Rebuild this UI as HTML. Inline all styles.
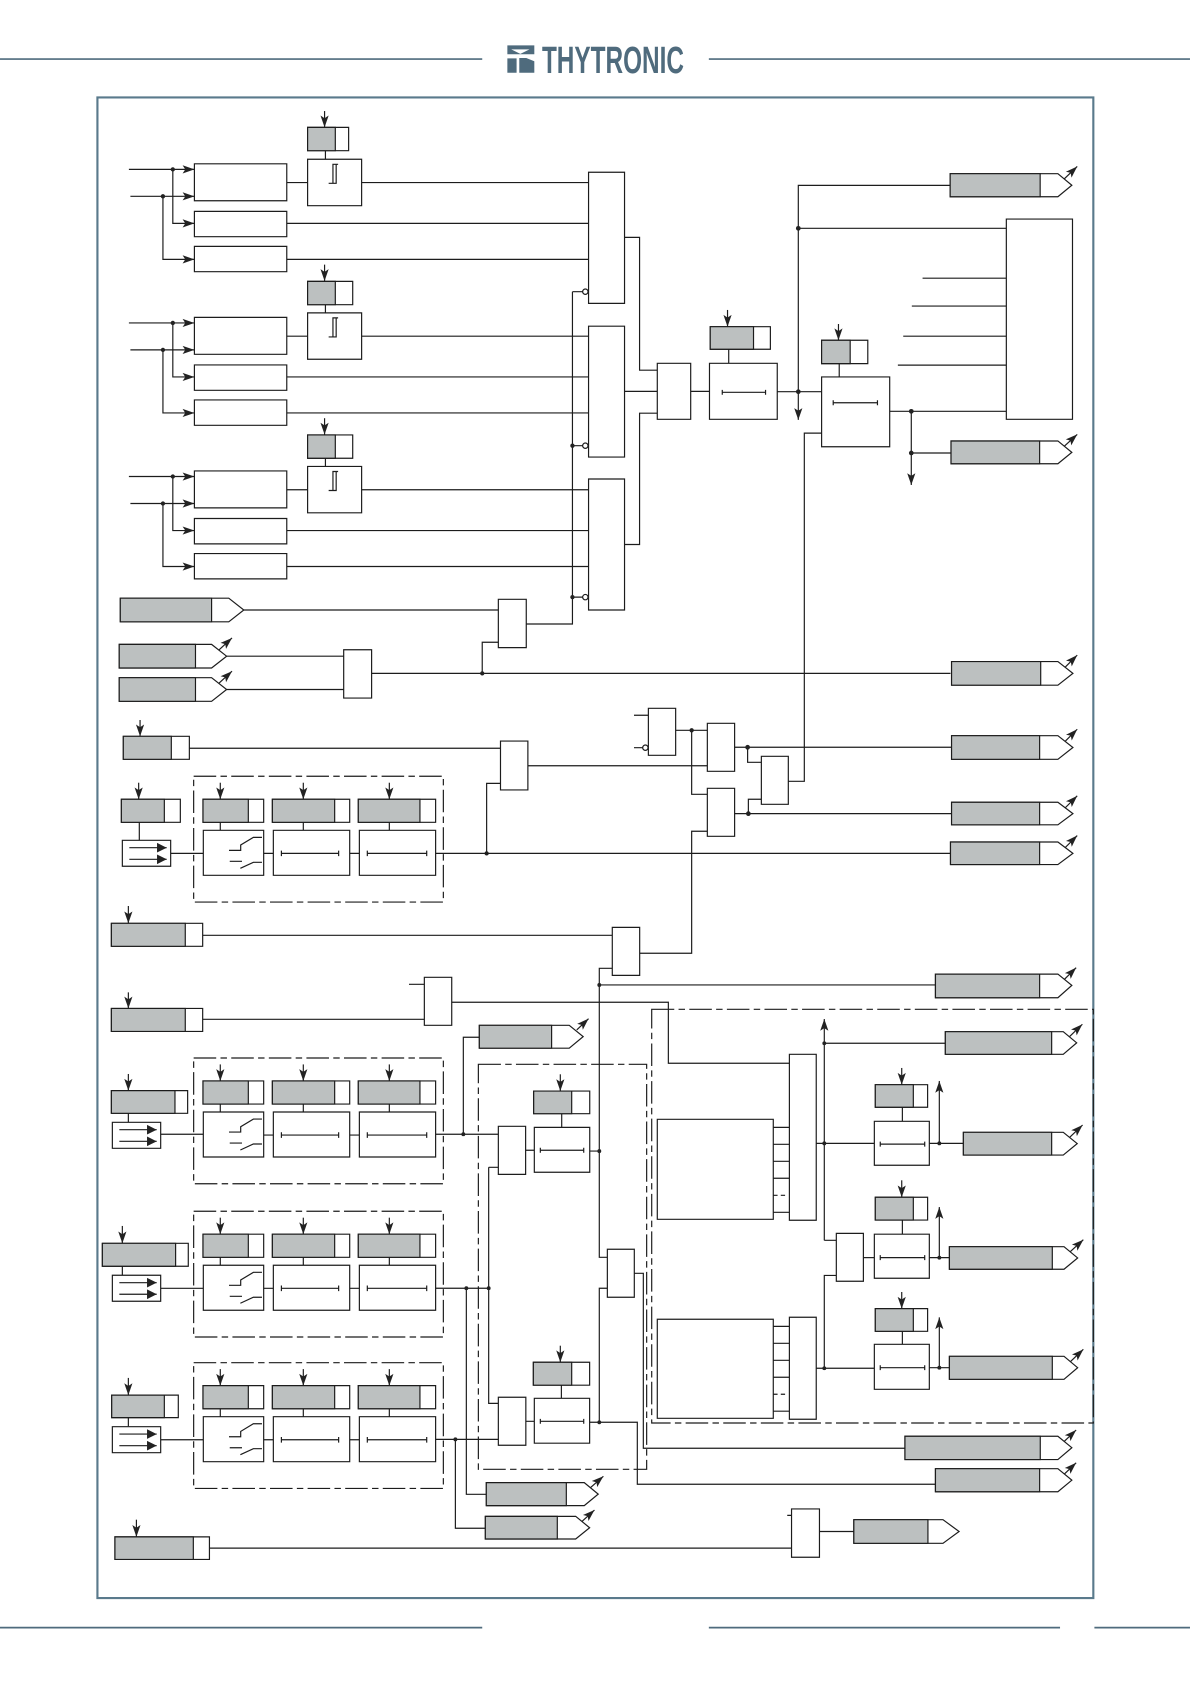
<!DOCTYPE html>
<html lang="en"><head><meta charset="utf-8"><title>Logic diagram</title>
<style>
html,body{margin:0;padding:0;background:#fff}
svg{display:block}
.g{fill:#bcc0c0}
.w{fill:#fff}
.d{fill:#222;stroke:none}
.a{marker-end:url(#ah)}
.x{stroke-dasharray:21 4 6 4}
.b{stroke:#4f6b7d;stroke-width:1.6;fill:none}
</style></head><body>
<svg xmlns="http://www.w3.org/2000/svg" width="1190" height="1684" viewBox="0 0 1108 1568">
<defs>
<marker id="ah" markerUnits="userSpaceOnUse" markerWidth="14" markerHeight="10" refX="12" refY="5" orient="auto"><path d="M12 5L1 1.2L3.5 5L1 8.8Z" fill="#222"/></marker>
<marker id="tr" markerUnits="userSpaceOnUse" markerWidth="10" markerHeight="10" refX="9" refY="5" orient="auto"><path d="M9 5L0 .5V9.5Z" fill="#222"/></marker>
<g id="grp">
<path class="x" d="M180.3 722.8H412.8V839.9H180.3Z"/>
<path class="w" d="M189 744.2H245.5V765.7H189Z"/><path class="g" d="M189 744.2H231.2V765.7H189Z"/>
<path class="w" d="M253.6 744.2H325.6V765.7H253.6Z"/><path class="g" d="M253.6 744.2H311.6V765.7H253.6Z"/>
<path class="w" d="M333.6 744.2H405.6V765.7H333.6Z"/><path class="g" d="M333.6 744.2H391V765.7H333.6Z"/>
<path class="a" d="M205.1 728.8V744.2"/><path class="a" d="M282.4 728.8V744.2"/><path class="a" d="M362.5 728.8V744.2"/>
<path d="M205.1 765.7V773.1M282.4 765.7V773.1M362.5 765.7V773.1"/>
<path class="w" d="M189.3 773.1H245.5V815H189.3Z"/>
<path class="w" d="M254.5 773.1H325.6V815H254.5Z"/>
<path class="w" d="M334.6 773.1H405.6V815H334.6Z"/>
<path d="M245.5 794.6H254.5M325.6 794.6H334.6"/>
<path d="M213.2 791.8H224.1V786.8L235.9 779.7H243.9M213.9 802H225.3M223.8 808.5L235.9 802.9H243.9"/>
<path d="M262 794.6H315.3M262 792V797.2M315.3 792V797.2M342 794.6H397.3M342 792V797.2M397.3 792V797.2"/>
</g>
<g id="sh">
<path class="w" d="M113.9 782.4H158.9V806.6H113.9Z"/>
<path style="marker-end:url(#tr)" d="M120.4 789.3H155.2"/>
<path style="marker-end:url(#tr)" d="M120.4 800.1H155.2"/>
</g>
<g id="top">
<path d="M120 157.7H181" class="a"/><path d="M121.4 182.8H181" class="a"/>
<path class="a" d="M160.9 157.7V208H181"/><path class="a" d="M151.7 182.8V241.5H181"/>
<circle class="d" cx="160.9" cy="157.7" r="2"/><circle class="d" cx="151.7" cy="182.8" r="2"/>
<path d="M181 152.5H267V186.9H181ZM181 196.8H267V220.4H181ZM181 229.4H267V253H181Z"/>
<path d="M267 170H286.4M336.7 170H548M267 208H548M267 241.5H548"/>
<path d="M286.4 148.3H336.7V191.5H286.4Z"/>
<path d="M306 170.7H310V153H314.8M313 153V170.7H310"/>
<path d="M303 140.3V148.3"/>
<path class="a" d="M302.2 103.4V118.6"/>
</g>
</defs>

<path class="b" d="M0 55H449M660 55H1108M0 1515.5H449M660 1515.5H987M1019 1515.5H1108"/>
<path fill="#4f6b7d" fill-rule="evenodd" d="M472.4 42.2H497.5V50.5H472.4ZM476 46H493L484.5 50.2Z"/>
<path fill="#4f6b7d" d="M472.4 54.3H481V67.7H472.4ZM483.5 54H490L497.5 57V67.7H483.5Z"/>
<text x="504.6" y="68" font-family="'Liberation Sans',sans-serif" font-weight="bold" font-size="35" fill="#4f6b7d" textLength="132.2" lengthAdjust="spacingAndGlyphs">THYTRONIC</text>
<path d="M90.7 90.7H1018V1488H90.7Z" fill="none" stroke="#5a7a8c" stroke-width="2"/>

<g fill="none" stroke="#1c1c1c" stroke-width="1.1">
<!-- top three channels -->
<use href="#top"/><use href="#top" y="143"/><use href="#top" y="286"/>
<path class="w" d="M286.4 118.6H324.6V140.3H286.4Z"/><path class="g" d="M286.4 118.6H312.2V140.3H286.4Z"/>
<path class="w" d="M286.4 262H328.4V283.7H286.4Z"/><path class="g" d="M286.4 262H312.2V283.7H286.4Z"/>
<path class="w" d="M286.4 405H328.4V426.7H286.4Z"/><path class="g" d="M286.4 405H312.2V426.7H286.4Z"/>
<path d="M548 160.4H581.5V282.5H548ZM548 303.7H581.5V425.6H548ZM548 446H581.5V568H548Z"/>
<path d="M581.5 221H595.5V344.7H612M581.5 364.4H612M581.5 507H595.5V384.7H612"/>
<path d="M533 271.6H542.5M533 415H542.5M533 556H542.5M533 271.6V581H490"/>
<circle class="w" cx="545" cy="271.6" r="2.5"/><circle class="w" cx="545" cy="415" r="2.5"/><circle class="w" cx="545" cy="556" r="2.5"/>
<circle class="d" cx="533" cy="415" r="2"/><circle class="d" cx="533" cy="556" r="2"/>
<path d="M612 338.3H643.1V390.4H612Z"/>
<path d="M643.1 364.4H660.6"/>
<path class="w" d="M661.3 304.2H717.3V325.2H661.3Z"/><path class="g" d="M661.3 304.2H701.6V325.2H661.3Z"/>
<path class="a" d="M677.4 288.6V304.2"/><path d="M678.5 325.2V338.3"/>
<path d="M660.6 338.3H723.7V390.4H660.6Z"/>
<path d="M672.5 365.3H712.8M672.5 363V367.6M712.8 363V367.6"/>
<path d="M723.7 364.7H765"/>
<path class="a" d="M884.7 172.6H743.3V391"/>
<path d="M743.3 212.6H937"/>
<circle class="d" cx="743.3" cy="212.6" r="2.2"/><circle class="d" cx="743.3" cy="364.7" r="2.2"/>
<path class="w" d="M765 316.8H808V338.6H765Z"/><path class="g" d="M765 316.8H791.6V338.6H765Z"/>
<path class="a" d="M780.7 301.7V316.8"/><path d="M781.4 338.6V351"/>
<path d="M765 351H828.4V416H765Z"/>
<path d="M775.8 375H817M775.8 372.7V377.3M817 372.7V377.3"/>
<path d="M937 204H998.6V390.4H937Z"/>
<path d="M859 259H937M849 285H937M841 313H937M836 340H937M828.4 383H937"/>
<path class="a" d="M848.5 383V451.6"/><path d="M848.5 421.8H885.5"/>
<circle class="d" cx="848.5" cy="383" r="2.2"/><circle class="d" cx="848.5" cy="421.8" r="2.2"/>

<!-- middle logic -->
<path d="M227 568H464M211 611H320M211 642H320"/>
<path d="M464 558H490V603H464ZM320 605H346V650H320Z"/>
<path d="M346 627H885M449 627V598H464"/><circle class="d" cx="449" cy="627" r="2"/>
<path class="w" d="M114.8 685.6H176.3V707H114.8Z"/><path class="g" d="M114.8 685.6H159.5V707H114.8Z"/>
<path class="a" d="M130.4 670.4V685.6"/>
<path d="M176.3 696.7H466M466 690H491.5V735.5H466ZM491.5 713H658.6"/>
<path d="M453.1 794.6V729.4H466"/><circle class="d" cx="453.1" cy="794.6" r="2"/>
<path d="M590.3 666H603.7M590.3 696.2H598.4"/>
<path d="M603.7 659.5H629.1V703.3H603.7Z"/>
<circle class="w" cx="600.9" cy="696.2" r="2.5"/>
<path d="M629.1 680H658.6M644 680V739.6H658.6M658.6 774H644V887.6H595.6"/>
<circle class="d" cx="644" cy="680" r="2"/>
<path d="M658.6 673.5H684V718.2H658.6ZM658.6 734H684V778.7H658.6Z"/>
<path d="M684 695.8H886M684 757.6H886"/>
<path d="M696.1 695.8V709.8H708.9M708.9 744.2H696.8V757.6"/>
<circle class="d" cx="696.1" cy="695.8" r="2.2"/><circle class="d" cx="696.8" cy="757.6" r="2.2"/>
<path d="M708.9 704.2H734V748.9H708.9Z"/>
<path d="M734 727.5H748.9V403.3H765"/>

<!-- switch groups -->
<path class="w" d="M113 744.2H167.9V765.7H113Z"/><path class="g" d="M113 744.2H153V765.7H113Z"/>
<path class="a" d="M129.1 728.8V744.2"/><path d="M129.7 765.7V782.4M158.9 794.6H189.3"/>
<use href="#sh"/><use href="#grp"/>
<path d="M405.6 794.6H885"/>

<path class="w" d="M103.7 859.7H188.7V881.1H103.7Z"/><path class="g" d="M103.7 859.7H172.5V881.1H103.7Z"/>
<path class="a" d="M119.5 843.6V859.7"/><path d="M188.7 870.9H570"/>
<path d="M570.1 863.5H595.6V908.2H570.1Z"/>
<path class="w" d="M103.7 939H188.7V960.4H103.7Z"/><path class="g" d="M103.7 939H172.5V960.4H103.7Z"/>
<path class="a" d="M119.5 924V939"/><path d="M188.7 949.1H395.1M380.8 916.5H395.1"/>
<path d="M395.1 910H420.6V954.7H395.1Z"/>
<path d="M420.6 933.2H622.3V990H735"/>
<path d="M570.1 901.6H558V1170.7H565.5M558 917.1H871"/>
<circle class="d" cx="558" cy="917.1" r="1.8"/>

<!-- E -->
<path class="w" d="M103.7 1015.5H174.7V1036.6H103.7Z"/><path class="g" d="M103.7 1015.5H162.9V1036.6H103.7Z"/>
<path class="a" d="M119.5 1000V1015.5"/><path d="M119.5 1036.6V1045M149.6 1056.1H189.3"/>
<use href="#sh" x="-9.3" y="262.6"/><use href="#grp" y="262.3"/>
<path d="M405.6 1056.1H464M431.4 1056.1V965.8H446.3"/><circle class="d" cx="431.4" cy="1056.1" r="1.8"/>
<!-- F -->
<path class="w" d="M95.3 1157.7H175.3V1179H95.3Z"/><path class="g" d="M95.3 1157.7H163.5V1179H95.3Z"/>
<path class="a" d="M113.9 1141.5V1157.7"/><path d="M113.9 1179V1187.4M149.6 1199.6H189.3"/>
<use href="#sh" x="-9.3" y="405"/><use href="#grp" y="405"/>
<path d="M405.6 1199.5H455M455 1086.9V1306.7H464M455 1086.9H464M434.2 1199.5V1391.4H452.8"/>
<circle class="d" cx="434.2" cy="1199.5" r="1.8"/><circle class="d" cx="455" cy="1199.5" r="1.8"/>
<!-- G -->
<path class="w" d="M104 1299H166V1320H104Z"/><path class="g" d="M104 1299H153V1320H104Z"/>
<path class="a" d="M119.5 1283V1299"/><path d="M119.5 1320V1328M149.6 1340.6H189.3"/>
<use href="#sh" x="-9.3" y="546"/><use href="#grp" y="546"/>
<path d="M405.6 1340.2H464M424 1340.2V1423H451.9"/><circle class="d" cx="424" cy="1340.2" r="1.8"/>

<!-- inner dashed -->
<path class="x" d="M445.4 991H602.1V1368.1H445.4Z"/>
<path d="M464 1048.7H489.4V1093.5H464ZM464 1301H489.6V1345.7H464Z"/>
<path d="M489.4 1071H497.5M489.6 1323.4H497.5"/>
<path class="w" d="M496.9 1015.9H549.1V1037H496.9Z"/><path class="g" d="M496.9 1015.9H532.3V1037H496.9Z"/>
<path class="a" d="M521.7 1000.3V1015.9"/><path d="M523 1037V1049.7"/>
<path d="M497.5 1049.7H549.1V1091.5H497.5Z"/>
<path d="M503.1 1071H543.5M503.1 1068.7V1073.3M543.5 1068.7V1073.3M549.1 1071.8H558"/>
<circle class="d" cx="558" cy="1071.8" r="1.8"/>
<path class="w" d="M496.6 1268.4H549V1289.8H496.6Z"/><path class="g" d="M496.6 1268.4H532.3V1289.8H496.6Z"/>
<path class="a" d="M521.7 1253V1268.4"/><path d="M522.7 1289.8V1302"/>
<path d="M497.5 1302H549V1343.8H497.5Z"/>
<path d="M503.1 1323.4H543.5M503.1 1321.1V1325.7M543.5 1321.1V1325.7"/>
<path d="M549 1324.3H593.4V1382H871M558 1324.3V1199.5H565.5"/>
<circle class="d" cx="558" cy="1324.3" r="1.8"/>
<path d="M565.5 1163.2H590.6V1207.9H565.5Z"/>
<path d="M590.6 1185.6H599V1348.5H842.6"/>

<!-- outer dashed -->
<path class="x" d="M606.8 939.8H1018V1325H606.8Z"/>
<path d="M612 1042.2H720V1135.3H612ZM612 1228.4H720V1320.6H612Z"/>
<path d="M720 1049.7H735M720 1065.5H735M720 1081.3H735M720 1097.1H735M720 1128.8H735M720 1113H724M727 1113H731"/>
<path d="M720 1235H735M720 1250.8H735M720 1266.6H735M720 1282.4H735M720 1314H735M720 1298.2H724M727 1298.2H731"/>
<path d="M735 981.7H760V1136.2H735ZM735 1226.5H760V1321.5H735Z"/>
<path class="a" d="M767.5 1154.9V948.8"/>
<path d="M778.7 1154.9H767.5M767.5 971.4H880.2M760 1064.6H814M760 1274H814M778.7 1187.6H767.5V1274"/>
<circle class="d" cx="767.5" cy="971.4" r="1.8"/><circle class="d" cx="767.5" cy="1064.6" r="1.8"/><circle class="d" cx="767.5" cy="1274" r="1.8"/>
<path d="M778.7 1148.4H803.9V1193H778.7Z"/><path d="M803.9 1171H814"/>
<path class="w" d="M815 1010H863.7V1031H815Z"/><path class="g" d="M815 1010H850.4V1031H815Z"/>
<path class="w" d="M815 1114.8H863.7V1136H815Z"/><path class="g" d="M815 1114.8H850.4V1136H815Z"/>
<path class="w" d="M815 1218.5H863.7V1239.6H815Z"/><path class="g" d="M815 1218.5H850.4V1239.6H815Z"/>
<path class="a" d="M839.6 994.4V1010"/><path class="a" d="M839.6 1099V1114.8"/><path class="a" d="M839.6 1203V1218.5"/>
<path d="M840.2 1031V1044.1M840.2 1136V1149.2M840.2 1239.6V1251.7"/>
<path d="M814.1 1044.1H865.3V1085H814.1ZM814.1 1149.2H865.3V1190.2H814.1ZM814.1 1251.7H865.3V1293.6H814.1Z"/>
<path d="M819.6 1065.3H861M819.6 1063V1067.6M861 1063V1067.6M819.6 1171H861M819.6 1168.7V1173.3M861 1168.7V1173.3M819.6 1273.5H861M819.6 1271.2V1275.8M861 1271.2V1275.8"/>
<path d="M865.3 1064.6H897M865.3 1171H884M865.3 1273.5H884"/>
<path class="a" d="M874.6 1064.6V1006.5"/><path class="a" d="M874.6 1171V1123.9"/><path class="a" d="M874.6 1273.5V1226.6"/>
<circle class="d" cx="874.6" cy="1064.6" r="1.8"/><circle class="d" cx="874.6" cy="1171" r="1.8"/><circle class="d" cx="874.6" cy="1273.5" r="1.8"/>

<!-- bottom row -->
<path class="w" d="M107 1431H195V1452H107Z"/><path class="g" d="M107 1431H180V1452H107Z"/>
<path class="a" d="M127 1415V1431"/>
<path d="M195 1441.5H737M733 1411H737"/>
<path d="M737 1405H763V1450H737Z"/><path d="M763 1426H795"/>

<!-- output tags -->
<path class="w" d="M884.7 161.7H985L998 172.5L985 183.2H884.7Z"/><path class="g" d="M884.7 161.7H968.5V183.2H884.7Z"/><path class="a" d="M991 166.5L1003 155"/>
<path class="w" d="M885.5 410.6H985L998 421.2L985 431.8H885.5Z"/><path class="g" d="M885.5 410.6H968V431.8H885.5Z"/><path class="a" d="M991 415.5L1003 404.5"/>
<path class="w" d="M112 557H213L227 568L213 579H112Z"/><path class="g" d="M112 557H197V579H112Z"/>
<path class="w" d="M111 600H197L211 611L197 622H111Z"/><path class="g" d="M111 600H182V622H111Z"/><path class="a" d="M204 605L216 594"/>
<path class="w" d="M111 631H197L211 642L197 653H111Z"/><path class="g" d="M111 631H182V653H111Z"/><path class="a" d="M204 636L216 625"/>
<path class="w" d="M886 616H985L999 627L985 638H886Z"/><path class="g" d="M886 616H969V638H886Z"/><path class="a" d="M992 621L1003 610"/>
<path class="w" d="M886 685H985L999 696L985 707H886Z"/><path class="g" d="M886 685H968V707H886Z"/><path class="a" d="M992 690L1003 679"/>
<path class="w" d="M886 747H985L999 757.6L985 768H886Z"/><path class="g" d="M886 747H968V768H886Z"/><path class="a" d="M992 752L1003 741"/>
<path class="w" d="M885 784H985L999 794.6L985 805H885Z"/><path class="g" d="M885 784H968V805H885Z"/><path class="a" d="M992 789L1003 778"/>
<path class="w" d="M871 907H985L998 917.5L985 929H871Z"/><path class="g" d="M871 907H968V929H871Z"/><path class="a" d="M991 912L1002 901"/>
<path class="w" d="M446.3 954.7H530L543 965.2L530 976H446.3Z"/><path class="g" d="M446.3 954.7H513.6V976H446.3Z"/><path class="a" d="M537 959L548 948.5"/>
<path class="w" d="M880.2 960.6H990L1002.5 971L990 981.7H880.2Z"/><path class="g" d="M880.2 960.6H979.2V981.7H880.2Z"/><path class="a" d="M996 965L1007.8 953.7"/>
<path class="w" d="M897 1054.3H990L1003 1064.8L990 1075.5H897Z"/><path class="g" d="M897 1054.3H979.2V1075.5H897Z"/><path class="a" d="M996 1059L1008 1047.5"/>
<path class="w" d="M884 1160.8H990.7L1003.4 1171.3L990.7 1181.8H884Z"/><path class="g" d="M884 1160.8H979.8V1181.8H884Z"/><path class="a" d="M996.5 1165.5L1008.7 1154.3"/>
<path class="w" d="M884 1262.9H990.7L1003.4 1273.5L990.7 1284.3H884Z"/><path class="g" d="M884 1262.9H979.8V1284.3H884Z"/><path class="a" d="M996.5 1268L1008.7 1256.4"/>
<path class="w" d="M842.6 1337.3H985L998 1348L985 1359H842.6Z"/><path class="g" d="M842.6 1337.3H968.6V1359H842.6Z"/><path class="a" d="M991 1342L1002 1331.5"/>
<path class="w" d="M871 1367.5H985L998 1378.2L985 1389H871Z"/><path class="g" d="M871 1367.5H968V1389H871Z"/><path class="a" d="M991 1372.5L1002 1362"/>
<path class="w" d="M452.8 1380.5H544L557 1391.2L544 1401.9H452.8Z"/><path class="g" d="M452.8 1380.5H527.3V1401.9H452.8Z"/><path class="a" d="M550 1385L561.8 1374.6"/>
<path class="w" d="M451.9 1411.9H536L549 1422.5L536 1433H451.9Z"/><path class="g" d="M451.9 1411.9H518.9V1433H451.9Z"/><path class="a" d="M542 1416.5L553.5 1406"/>
<path class="w" d="M795 1415H878L893 1426L878 1437H795Z"/><path class="g" d="M795 1415H864V1437H795Z"/>
</g>
</svg>
</body></html>
